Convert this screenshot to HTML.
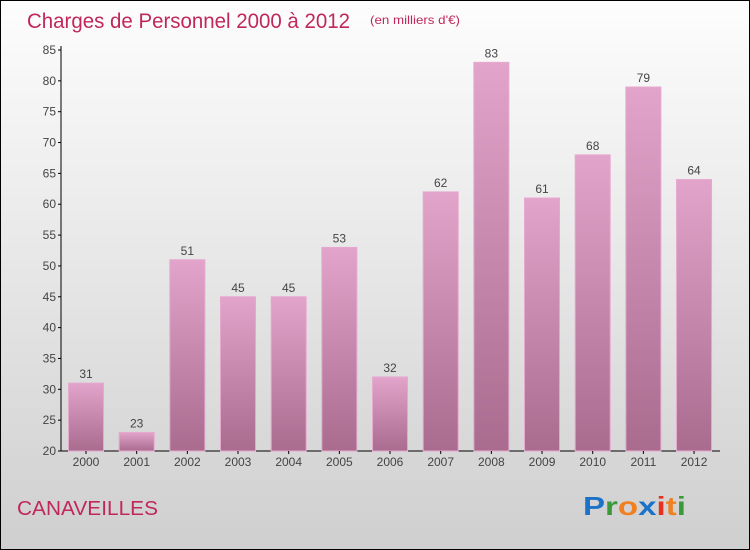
<!DOCTYPE html>
<html><head><meta charset="utf-8"><style>
html,body{margin:0;padding:0}
body{width:750px;height:550px;overflow:hidden;font-family:"Liberation Sans",sans-serif}
#frame{position:absolute;left:0;top:0;width:748px;height:548px;border:1px solid #000;background:linear-gradient(#fdfdfd,#cfcfcf)}
</style></head><body>
<div id="frame">
<svg width="750" height="550" style="position:absolute;left:-1px;top:-1px" id="svg">
<defs>
<linearGradient id="bg" x1="0" y1="0" x2="0" y2="1"><stop offset="0" stop-color="#e2a4ca"/><stop offset="1" stop-color="#a96b8e"/></linearGradient>
</defs>
<text x="27" y="28" font-size="21" fill="#c0285d" textLength="323" lengthAdjust="spacingAndGlyphs">Charges de Personnel 2000 à 2012</text>
<text x="370" y="24" font-size="12" fill="#c0285d" textLength="90" lengthAdjust="spacingAndGlyphs">(en milliers d'€)</text>
<text x="17" y="515" font-size="20" fill="#c0285d" textLength="141" lengthAdjust="spacingAndGlyphs">CANAVEILLES</text>
<g font-size="26" font-weight="bold" font-family="Liberation Sans, sans-serif">
<text x="583" y="515" textLength="103" lengthAdjust="spacingAndGlyphs"><tspan fill="#1a73c8">P</tspan><tspan fill="#3a9a3a">r</tspan><tspan fill="#f08020">o</tspan><tspan fill="#1a73c8">x</tspan><tspan fill="#e83020">i</tspan><tspan fill="#f08020">t</tspan><tspan fill="#3a9a3a">i</tspan></text>
</g>
<g id="plot"></g>
</svg>
</div>
<script>
const years=["2000","2001","2002","2003","2004","2005","2006","2007","2008","2009","2010","2011","2012"];
const values=[31,23,51,45,45,53,32,62,83,61,68,79,64];
const yTicks=[20,25,30,35,40,45,50,55,60,65,70,75,80,85];
const NS="http://www.w3.org/2000/svg";
const g=document.getElementById('plot');
const yMin=20,yMax=85,yTop=50,yBot=451;
const y=v=>yBot-(v-yMin)/(yMax-yMin)*(yBot-yTop);
const x=i=>86+i*50.67;
function el(t,a){const e=document.createElementNS(NS,t);for(const k in a)e.setAttribute(k,a[k]);g.appendChild(e);return e;}
const ax=el('line',{x1:61,y1:yTop-4,x2:61,y2:yBot,stroke:'#000'});


const bx=el('line',{x1:61,y1:yBot,x2:720,y2:yBot,stroke:'#000'});


yTicks.forEach(t=>{
 const tk=el('line',{x1:58,x2:61,y1:y(t),y2:y(t),stroke:'#000'});
 
 
 const tl=el('text',{x:56,y:y(t)+4,'font-size':12,fill:'#444','text-anchor':'end'});
 tl.textContent=t;
 
 
});
values.forEach((v,i)=>{
 const cx=x(i);
 const r=el('rect',{x:cx-17.5,y:y(v),width:35,height:yBot-y(v),fill:'url(#bg)',stroke:'#e6a8cf','stroke-width':1});
 
 
 const vl=el('text',{x:cx,y:y(v)-5,'font-size':12,fill:'#444','text-anchor':'middle'});
 vl.textContent=v;
 
 
 const tk=el('line',{x1:cx,x2:cx,y1:yBot,y2:yBot+3,stroke:'#000'});
 
 
 const xl=el('text',{x:cx,y:yBot+15,'font-size':12,fill:'#444','text-anchor':'middle'});
 xl.textContent=years[i];
 
 
});
</script>
</body></html>
